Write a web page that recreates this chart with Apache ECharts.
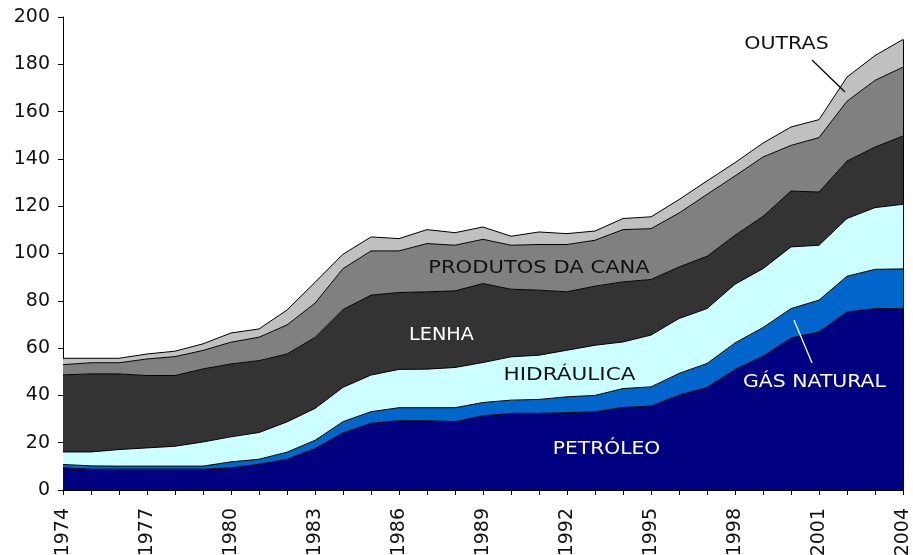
<!DOCTYPE html>
<html><head><meta charset="utf-8">
<script src="https://cdn.jsdelivr.net/npm/echarts@6/dist/echarts.min.js"></script>
<style>html,body{margin:0;padding:0;background:#fff}#c{width:913px;height:555px}</style>
</head><body><div id="c"></div>
<script>
var years = ['1974','1975','1976','1977','1978','1979','1980','1981','1982','1983','1984','1985','1986','1987','1988','1989','1990','1991','1992','1993','1994','1995','1996','1997','1998','1999','2000','2001','2002','2003','2004'];
var petroleo   = [9.4,8.8,8.8,8.8,8.8,8.8,9.4,10.9,13.0,17.5,24.2,28.2,29.3,29.3,28.9,31.4,32.4,32.4,32.7,33.1,34.9,35.5,40.1,43.4,51.0,56.6,64.3,66.9,75.3,76.7,76.7];
var gasNatural = [1.4,1.4,1.3,1.3,1.3,1.3,2.5,2.1,3.0,3.5,4.7,4.9,5.5,5.5,5.9,5.6,5.6,5.9,6.7,6.9,8.0,8.1,9.2,10.1,11.2,12.1,12.4,13.4,15.1,16.6,16.8];
var hidraulica = [5.3,5.9,7.0,7.7,8.4,10.2,10.6,11.3,12.8,13.5,14.5,15.5,16.2,16.3,17.0,16.9,18.3,18.7,19.7,21.2,19.7,21.9,23.2,23.2,24.8,24.9,26.1,23.2,24.4,26.1,27.3];
var lenha      = [32.6,33.0,32.0,30.6,29.9,30.9,30.8,30.4,28.7,30.0,32.9,33.8,32.5,32.7,32.4,33.4,28.6,27.5,24.7,25.0,25.4,23.5,21.8,22.1,20.7,22.1,23.6,22.5,24.3,25.6,28.9];
var cana       = [4.3,4.7,4.7,7.0,8.0,7.8,9.2,9.9,12.3,14.5,17.3,18.7,17.6,20.4,19.3,18.7,18.6,19.3,20.0,19.4,22.1,21.5,22.8,26.2,25.1,25.1,19.3,23.0,25.3,28.2,29.1];
var outras     = [2.7,1.9,1.9,2.1,2.3,2.8,3.9,3.5,6.3,8.8,6.1,5.9,5.2,5.9,5.3,5.2,3.8,5.3,4.6,3.9,4.7,5.0,5.7,5.7,5.6,5.9,7.8,7.6,10.2,10.5,11.7];
var yTicks = [0,20,40,60,80,100,120,140,160,180,200];
var seriesNames = ['PETRÓLEO','GÁS NATURAL','HIDRÁULICA','LENHA','PRODUTOS DA CANA','OUTRAS'];

var colors = ['#000080','#0066CC','#CCFFFF','#333333','#808080','#C0C0C0'];
var datasets = [petroleo,gasNatural,hidraulica,lenha,cana,outras];
var last = years.length-1;
var totalLast = 0;
datasets.forEach(function(d){ totalLast += d[last]; });

var series = datasets.map(function(d,i){
  var s = {
    name: seriesNames[i], type:'line', stack:'total', data:d, symbol:'none',
    lineStyle:{color:'#000',width:1}, areaStyle:{color:colors[i],opacity:1},
    itemStyle:{color:colors[i]}, z: 2
  };
  if(i===datasets.length-1){
    s.markLine = {silent:true, symbol:'none', label:{show:false},
      lineStyle:{color:'#000',width:1,type:'solid'},
      data:[[{coord:[years[last],0]},{coord:[years[last],totalLast]}]]};
  }
  return s;
});

var FONT = 'DejaVu Sans';
function lbl(text,x,y,color,sx){
  return {type:'text', x:x, y:y, scaleX:sx, z:100,
    style:{text:text, fill:color, font:'17px "DejaVu Sans"', align:'center', verticalAlign:'middle'}};
}

var chart = echarts.init(document.getElementById('c'));
chart.setOption({
  animation:false,
  backgroundColor:'#fff',
  grid:{left:63,right:10,top:17,bottom:65,containLabel:false,outerBoundsMode:'none'},
  xAxis:{type:'category',data:years,boundaryGap:false,
    axisLine:{lineStyle:{color:'#000',width:1}},
    axisTick:{show:true,interval:0,length:5,lineStyle:{color:'#000'}},
    axisLabel:{interval:2,rotate:90,margin:18,color:'#111',fontFamily:FONT,fontSize:19},
    splitLine:{show:false}},
  yAxis:{type:'value',min:yTicks[0],max:yTicks[yTicks.length-1],interval:20,
    axisLine:{show:true,lineStyle:{color:'#000',width:1}},
    axisTick:{show:true,length:5,lineStyle:{color:'#000'}},
    axisLabel:{margin:13,color:'#111',fontFamily:FONT,fontSize:19},
    splitLine:{show:false}},
  series:series,
  graphic:[
    lbl('PRODUTOS DA CANA',539,269,'#111',1.24),
    lbl('LENHA',441.5,336,'#fff',1.13),
    lbl('HIDRÁULICA',569.5,376,'#111',1.27),
    lbl('GÁS NATURAL',814.5,383,'#fff',1.2),
    lbl('PETRÓLEO',606.5,450,'#fff',1.19),
    lbl('OUTRAS',786.5,45,'#111',1.21),
    {type:'line',z:100,shape:{x1:812,y1:60,x2:845,y2:92},style:{stroke:'#000',lineWidth:1.3}},
    {type:'line',z:100,shape:{x1:794,y1:320,x2:812,y2:363},style:{stroke:'#fff',lineWidth:1.3}}
  ]
});
</script></body></html>
